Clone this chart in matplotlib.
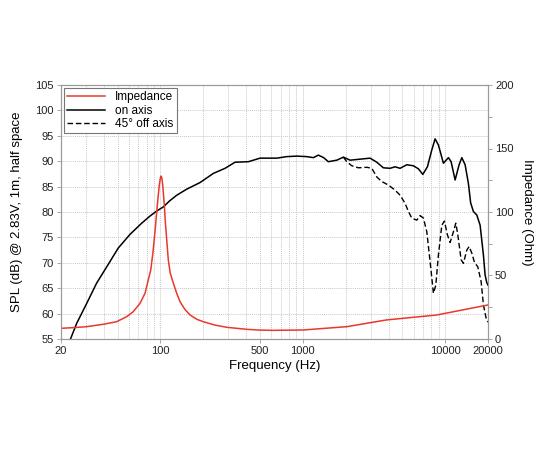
import numpy as np
import matplotlib.pyplot as plt
from matplotlib.ticker import FixedLocator, NullFormatter, MultipleLocator

plt.rcParams['font.family'] = ['Liberation Sans', 'DejaVu Sans']

# on axis SPL (Hz, dB)
on_f = [23.4, 25.8, 30.3, 35.6, 41.9, 50.5, 61.1, 73.8, 84.4, 94.1, 104.7, 116, 130.1, 152.9,
        189.7, 235.2, 284.2, 334, 414.4, 500.6, 656, 771, 907, 1066, 1186, 1286, 1400, 1511,
        1731, 1927, 2148, 2526, 2969, 3308, 3681, 4102, 4449, 4823, 5376, 5981, 6486, 6966,
        7504, 8054, 8497, 8962, 9720, 10540, 11010, 11746, 12530, 13090, 13808, 14568, 15100,
        15790, 16684, 17600, 18568, 19082, 19600, 20000]
on_db = [55.1, 58.1, 62.0, 66.0, 69.2, 72.9, 75.6, 77.8, 79.2, 80.2, 81.0, 82.2, 83.3, 84.5,
         85.8, 87.6, 88.6, 89.8, 89.9, 90.6, 90.6, 90.9, 91.0, 90.9, 90.7, 91.2, 90.7, 89.9,
         90.2, 90.8, 90.2, 90.4, 90.6, 89.8, 88.7, 88.6, 88.9, 88.6, 89.3, 89.1, 88.5, 87.4,
         88.9, 92.2, 94.4, 93.2, 89.6, 90.7, 89.9, 86.3, 89.3, 90.7, 89.3, 85.6, 81.8,
         80.1, 79.4, 77.4, 71.5, 67.6, 66.1, 65.6]

# 45 deg off axis SPL (Hz, dB)
off_f = [1927, 2036, 2208, 2457, 2814, 3051, 3308, 3587, 3992, 4449, 4823, 5231, 5517, 5828,
         6320, 6666, 7032, 7430, 7839, 8269, 8596, 8962, 9471, 9880, 10370, 10832, 11426,
         11878, 12270, 12942, 13432, 14192, 14730, 15390, 16052, 16956, 17888, 18568, 19394, 20000]
off_db = [90.8, 89.9, 89.1, 88.7, 88.8, 88.6, 86.9, 86.0, 85.3, 84.3, 83.3, 81.7, 80.1, 78.8,
          78.4, 79.3, 78.8, 76.1, 70.2, 64.0, 65.6, 71.5, 77.4, 78.2, 75.5, 74.0, 76.1,
          77.8, 75.5, 70.6, 69.9, 72.5, 73.2, 71.9, 70.1, 69.2, 66.3, 61.7, 59.1, 58.3]

# impedance (Hz, Ohm)
imp_f = [20, 25, 30.3, 39.7, 49.2, 57.9, 64.4, 71.8, 77.9, 82.1, 85.4, 88.5, 91.5, 95.0, 98.1,
         99.8, 100.9, 102.0, 103.7, 106.4, 107.6, 110.6, 113.5, 117, 123.1, 130, 137.2, 148,
         161.3, 180, 200, 240, 292, 403.6, 500, 620.8, 1008, 2040, 3870, 8740, 20000]
imp_z = [8.4, 9.0, 9.7, 11.6, 13.6, 17.6, 21.5, 28.1, 36.0, 46.5, 54.3, 68.0, 84.5, 105.5, 121.3,
         126.8, 128.3, 127.2, 121.3, 105.5, 96.0, 78.0, 62.2, 52.0, 43.9, 36.0, 29.4, 23.5,
         18.9, 15.5, 13.6, 11.0, 9.2, 7.6, 7.0, 6.8, 7.1, 9.7, 15.0, 18.9, 26.8]

x_ticks = [20, 100, 500, 1000, 10000, 20000]
grid_f = [20, 30, 40, 50, 60, 70, 80, 90, 100, 200, 300, 400, 500, 600, 700, 800, 900,
          1000, 2000, 3000, 4000, 5000, 6000, 7000, 8000, 9000, 10000, 20000]

red = '#e8392b'
frame = '#9a9a9a'

fig = plt.figure(figsize=(5.5, 4.5), dpi=100)
ax = fig.add_axes([0.1109, 0.2467, 0.7764, 0.5644])
ax2 = ax.twinx()

ax.set_xscale('log')
ax.set_xlim(20, 20000)
ax.set_ylim(55, 105)
ax2.set_ylim(0, 200)

l1, = ax2.plot(imp_f, imp_z, color=red, lw=1.1, label='Impedance')
l2, = ax.plot(on_f, on_db, color='black', lw=1.1, label='on axis')
l3, = ax.plot(off_f, off_db, color='black', lw=1.0, ls=(0, (4, 2)), label='45° off axis')

ax.xaxis.set_major_locator(FixedLocator(x_ticks))
ax.xaxis.set_minor_locator(FixedLocator(grid_f))
ax.xaxis.set_major_formatter(plt.FixedFormatter([str(t) for t in x_ticks]))
ax.xaxis.set_minor_formatter(NullFormatter())
ax.yaxis.set_major_locator(MultipleLocator(5))
ax2.yaxis.set_major_locator(MultipleLocator(50))
ax2.yaxis.set_minor_locator(MultipleLocator(25))

for f in grid_f:
    ax.axvline(f, color='#c8c8c8', lw=0.7, ls=(0, (1, 1)), zorder=0)
for v in range(60, 105, 5):
    ax.axhline(v, color='#c8c8c8', lw=0.7, ls=(0, (1, 1)), zorder=0)

for a in (ax, ax2):
    for s in a.spines.values():
        s.set_color(frame)
    a.tick_params(which='both', colors=frame, labelcolor='#222222', labelsize=8, length=3,
                  width=0.6, pad=2)
ax.tick_params(axis='x', which='minor', length=0)

ax.set_xlabel('Frequency (Hz)', fontsize=9.5, labelpad=3)
ax.set_ylabel('SPL (dB) @ 2.83V, 1m, half space', fontsize=9.5, labelpad=9)
ax2.set_ylabel('Impedance (Ohm)', fontsize=9.5, rotation=270, labelpad=14)

leg = ax.legend(handles=[l1, l2, l3], loc='upper left', fontsize=8.5, fancybox=False,
                borderaxespad=0.25, handlelength=3.2, borderpad=0.3, labelspacing=0.1,
                framealpha=1)
leg.get_frame().set_edgecolor('#777777')
leg.get_frame().set_linewidth(0.8)

fig.savefig('out.png', dpi=100)
